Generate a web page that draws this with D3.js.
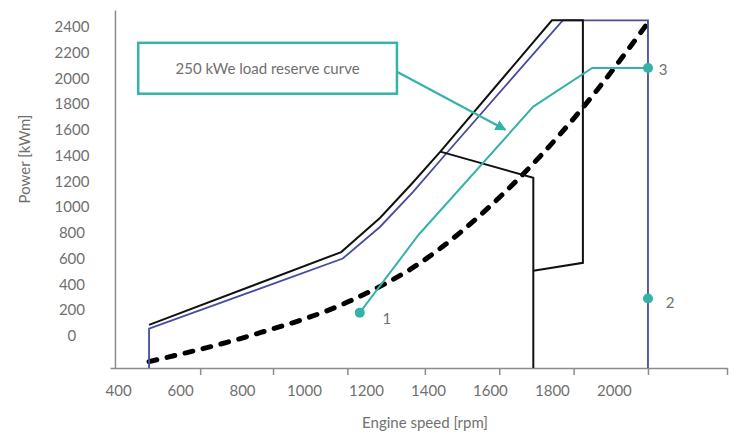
<!DOCTYPE html>
<html>
<head>
<meta charset="utf-8">
<script src="https://cdn.jsdelivr.net/npm/d3@7"></script>
<style>
body { margin: 0; background: #fff; }
text { font-family: Lato, "Open Sans", sans-serif; fill: #707070; }
</style>
</head>
<body>
<div id="chart-area"></div>
<script>
// tick labels and tick marks
var xLabels = [400, 600, 800, 1000, 1200, 1400, 1600, 1800, 2000];
var yLabels = [0, 200, 400, 600, 800, 1000, 1200, 1400, 1600, 1800, 2000, 2200, 2400];
var xTickMarks = [665, 900, 1140, 1390, 1630, 1870, 2110, 2365];

// curves as [rpm, kWm]
var blackLimit = [[500, 85], [1120, 650], [1245, 915], [1350, 1187], [1440, 1430], [1800, 2450], [1900, 2450], [1900, 567], [1740, 505]];
var blackBranch = [[1440, 1430], [1740, 1227], [1740, -250]];
var blueLimit = [[500, -250], [500, 55], [1125, 600], [1245, 845], [1352, 1117], [1455, 1404], [1835, 2450], [2110, 2450], [2110, -250]];
var propCurve = [[500, -200], [825, 0], [1148, 270], [1374, 565], [1632, 1078], [1891, 1746], [2107, 2421]];
var reserveCurve = [[1180, 180], [1370, 785], [1740, 1780], [1930, 2080], [2110, 2080]];

// numbered operating points
var pointIds = ["1", "2", "3"];
var pointRpm = [1180, 2110, 2110];
var pointKw = [180, 290, 2080];
var labelOffsets = [[27, 6], [22, 4], [15, 2]];

// annotation box + arrow
var noteText = "250 kWe load reserve curve";
var noteBox = [[465, 2275], [1300, 1880]];
var noteArrow = [[1300, 2050], [1650, 1600]];

var width = 737, height = 434;
var teal = "#35b3a8", blue = "#474ca0", axisGrey = "#8c8c8c";

var svg = d3.select("#chart-area")
    .append("svg")
    .attr("width", width)
    .attr("height", height);

// scales (axis lines span these domains)
var x = d3.scaleLinear().domain([374, 2365]).range([110, 727]);
var y = d3.scaleLinear().domain([-250, 2530]).range([368, 10]);

svg.append("defs").append("marker")
    .attr("id", "arrow")
    .attr("viewBox", "0 0 10 10")
    .attr("refX", 9).attr("refY", 5)
    .attr("markerWidth", 5).attr("markerHeight", 5)
    .attr("orient", "auto")
    .append("path")
    .attr("d", "M0,0 L10,5 L0,10 z")
    .attr("fill", teal);

// y axis
var yAxis = svg.append("g")
    .attr("transform", "translate(" + x(390) + ",0)")
    .call(d3.axisLeft(y).tickValues(yLabels).tickFormat(d3.format("d")).tickSize(0).tickSizeOuter(0));
yAxis.select(".domain").attr("stroke", axisGrey).attr("stroke-width", 1.5);
yAxis.selectAll("text")
    .attr("x", -43)
    .attr("text-anchor", "middle")
    .style("font-size", "15px")
    .attr("fill", "#707070");

// x axis line + tick marks
var xAxis = svg.append("g")
    .attr("transform", "translate(0," + y(-250) + ")")
    .call(d3.axisBottom(x).tickValues(xTickMarks).tickSize(7).tickSizeOuter(0).tickFormat(""));
xAxis.select(".domain").attr("stroke", axisGrey).attr("stroke-width", 1.5);
xAxis.selectAll(".tick line").attr("stroke", axisGrey).attr("stroke-width", 1.5);

// x labels (offset from the tick marks, as in the original)
var xLab = svg.append("g")
    .attr("transform", "translate(0," + y(-250) + ")")
    .call(d3.axisBottom(x).tickValues(xLabels).tickFormat(d3.format("d")).tickSize(0).tickPadding(17));
xLab.select(".domain").remove();
xLab.selectAll("text").style("font-size", "15px").attr("fill", "#707070");

// axis titles
svg.append("text")
    .attr("x", 425)
    .attr("y", 428)
    .attr("text-anchor", "middle")
    .style("font-size", "15px")
    .text("Engine speed [rpm]");

svg.append("text")
    .attr("transform", "rotate(-90)")
    .attr("x", -159)
    .attr("y", 30)
    .attr("text-anchor", "middle")
    .style("font-size", "15px")
    .text("Power [kWm]");

var line = d3.line()
    .x(function (d) { return x(d[0]); })
    .y(function (d) { return y(d[1]); });

var smooth = d3.line()
    .curve(d3.curveMonotoneX)
    .x(function (d) { return x(d[0]); })
    .y(function (d) { return y(d[1]); });

// propeller curve
svg.append("path")
    .attr("d", smooth(propCurve))
    .attr("fill", "none")
    .attr("stroke", "#000")
    .attr("stroke-width", 5)
    .attr("stroke-linecap", "round")
    .attr("stroke-dasharray", "8,10.5");

// engine limit lines
svg.append("path")
    .attr("d", line(blueLimit))
    .attr("fill", "none")
    .attr("stroke", blue)
    .attr("stroke-width", 1.8);

svg.append("path")
    .attr("d", line(blackLimit))
    .attr("fill", "none")
    .attr("stroke", "#111")
    .attr("stroke-width", 2);

svg.append("path")
    .attr("d", line(blackBranch))
    .attr("fill", "none")
    .attr("stroke", "#111")
    .attr("stroke-width", 2);

// load reserve curve
svg.append("path")
    .attr("d", line(reserveCurve))
    .attr("fill", "none")
    .attr("stroke", teal)
    .attr("stroke-width", 2);

svg.selectAll(".pt")
    .data(pointIds)
    .enter()
    .append("circle")
    .attr("class", "pt")
    .attr("cx", function (d, i) { return x(pointRpm[i]); })
    .attr("cy", function (d, i) { return y(pointKw[i]); })
    .attr("r", 5)
    .attr("fill", teal);

svg.selectAll(".ptlabel")
    .data(pointIds)
    .enter()
    .append("text")
    .attr("class", "ptlabel")
    .attr("x", function (d, i) { return x(pointRpm[i]) + labelOffsets[i][0]; })
    .attr("y", function (d, i) { return y(pointKw[i]) + labelOffsets[i][1]; })
    .attr("dy", "0.35em")
    .attr("text-anchor", "middle")
    .style("font-size", "15px")
    .text(function (d) { return d; });

// annotation
svg.append("rect")
    .attr("x", x(noteBox[0][0]))
    .attr("y", y(noteBox[0][1]))
    .attr("width", x(noteBox[1][0]) - x(noteBox[0][0]))
    .attr("height", y(noteBox[1][1]) - y(noteBox[0][1]))
    .attr("fill", "#fff")
    .attr("stroke", teal)
    .attr("stroke-width", 2.5);

svg.append("text")
    .attr("x", (x(noteBox[0][0]) + x(noteBox[1][0])) / 2)
    .attr("y", (y(noteBox[0][1]) + y(noteBox[1][1])) / 2)
    .attr("dy", "0.35em")
    .attr("text-anchor", "middle")
    .style("font-size", "15px")
    .text(noteText);

svg.append("path")
    .attr("d", line(noteArrow))
    .attr("stroke", teal)
    .attr("stroke-width", 2.2)
    .attr("marker-end", "url(#arrow)");
</script>
</body>
</html>
